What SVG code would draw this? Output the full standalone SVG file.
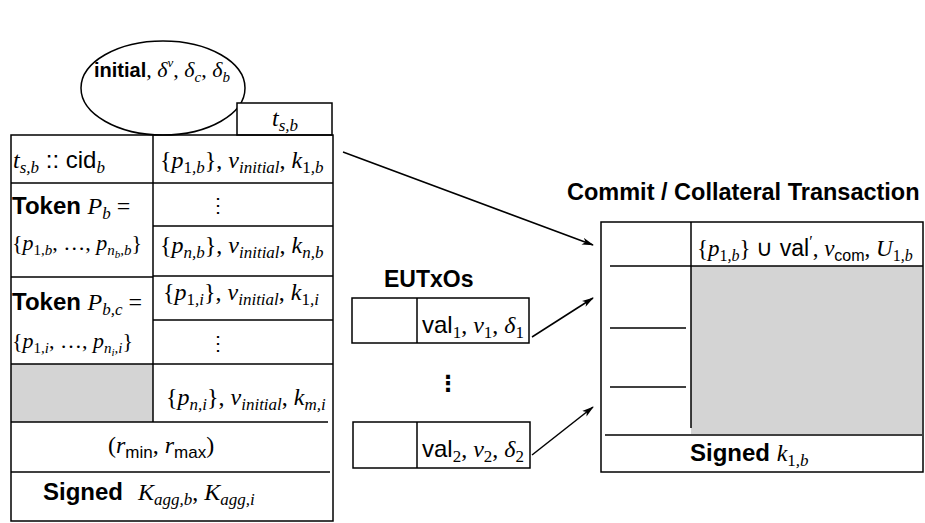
<svg xmlns="http://www.w3.org/2000/svg" width="925" height="523" viewBox="0 0 925 523">
<defs>
<style>
.ln{stroke:#000;stroke-width:1.5;fill:none}
.bx{stroke:#000;stroke-width:1.5;fill:#fff}
.gr{fill:#d4d4d4;stroke:none}
.b{font-family:"Liberation Sans",Arial,sans-serif;font-weight:bold;font-size:23px;fill:#000}
.m{font-family:"Liberation Serif","Times New Roman",serif;font-style:italic;font-size:24px;fill:#000}
.u{font-style:normal}
.s{font-size:17px}
.ss{font-size:11px}
.sf{font-family:"Liberation Sans",Arial,sans-serif;font-style:normal;font-weight:normal}
.dots{font-family:"DejaVu Serif",serif;font-size:20px;fill:#000}
.bdots{font-family:"DejaVu Sans",sans-serif;font-weight:bold;font-size:22px;fill:#000}
.conn{stroke:#000;stroke-width:1.5;fill:none;marker-end:url(#ah)}
</style>
<marker id="ah" viewBox="0 0 12 8" refX="11" refY="4" markerWidth="12" markerHeight="8" markerUnits="userSpaceOnUse" orient="auto">
<path d="M0,0.5 L12,4 L0,7.5 L3,4 z" fill="#000"/>
</marker>
</defs>

<g id="state-node">
<ellipse class="bx" cx="163" cy="88" rx="82" ry="47"/>
<text x="94" y="77"><tspan class="b" style="font-size:20px">initial</tspan><tspan class="m" style="font-size:22px"><tspan class="u">, </tspan>δ<tspan dy="-10" style="font-size:13px">v</tspan><tspan class="u" dy="10">, </tspan>δ<tspan dy="5" style="font-size:15px">c</tspan><tspan class="u" dy="-5">, </tspan>δ<tspan dy="5" style="font-size:15px">b</tspan></tspan></text>
</g>

<g id="tsb-node">
<rect class="bx" x="237" y="103" width="95" height="32"/>
<text class="m" x="285" y="126" text-anchor="middle">t<tspan class="s" dy="5">s,b</tspan></text>
</g>

<g id="left-table">
<rect class="gr" x="11" y="364" width="142" height="58"/>
<rect class="ln" x="11" y="135" width="322" height="386"/>
<line class="ln" x1="153" y1="135" x2="153" y2="422"/>
<line class="ln" x1="11" y1="183" x2="333" y2="183"/>
<line class="ln" x1="11" y1="277" x2="153" y2="277"/>
<line class="ln" x1="11" y1="364" x2="153" y2="364"/>
<line class="ln" x1="153" y1="226" x2="333" y2="226"/>
<line class="ln" x1="153" y1="276" x2="333" y2="276"/>
<line class="ln" x1="153" y1="320" x2="333" y2="320"/>
<line class="ln" x1="153" y1="364" x2="333" y2="364"/>
<line class="ln" x1="11" y1="422" x2="328" y2="422"/>
<line class="ln" x1="11" y1="472" x2="330" y2="472"/>

<text class="m" x="13" y="168">t<tspan class="s" dy="5">s,b</tspan><tspan class="u sf" dy="-5"> :: cid</tspan><tspan class="s" dy="5">b</tspan></text>
<text x="12" y="214"><tspan class="b" style="font-size:24px">Token </tspan><tspan class="m">P<tspan class="s" dy="5">b</tspan><tspan class="u" dy="-5"> =</tspan></tspan></text>
<text class="m" x="12" y="250" style="font-size:22px"><tspan class="u">{</tspan>p<tspan dy="5" style="font-size:15px"><tspan class="u">1</tspan>,b</tspan><tspan class="u" dy="-5">, …, </tspan>p<tspan dy="5" style="font-size:15px">n</tspan><tspan class="ss" dy="3">b</tspan><tspan dy="-3" style="font-size:15px">,b</tspan><tspan class="u" dy="-5">}</tspan></text>
<text x="12" y="310"><tspan class="b" style="font-size:24px">Token </tspan><tspan class="m">P<tspan class="s" dy="5">b,c</tspan><tspan class="u" dy="-5"> =</tspan></tspan></text>
<text class="m" x="12" y="348" style="font-size:22px"><tspan class="u">{</tspan>p<tspan dy="5" style="font-size:15px"><tspan class="u">1</tspan>,i</tspan><tspan class="u" dy="-5">, …, </tspan>p<tspan dy="5" style="font-size:15px">n</tspan><tspan class="ss" dy="3">i</tspan><tspan dy="-3" style="font-size:15px">,i</tspan><tspan class="u" dy="-5">}</tspan></text>

<text class="m" x="160" y="168"><tspan class="u">{</tspan>p<tspan class="s" dy="5"><tspan class="u">1</tspan>,b</tspan><tspan class="u" dy="-5">}, </tspan>ν<tspan class="s" dy="5">initial</tspan><tspan class="u" dy="-5">, </tspan>k<tspan class="s" dy="5"><tspan class="u">1</tspan>,b</tspan></text>
<text class="dots" x="218" y="212" text-anchor="middle">⋮</text>
<text class="m" x="160" y="253"><tspan class="u">{</tspan>p<tspan class="s" dy="5">n,b</tspan><tspan class="u" dy="-5">}, </tspan>ν<tspan class="s" dy="5">initial</tspan><tspan class="u" dy="-5">, </tspan>k<tspan class="s" dy="5">n,b</tspan></text>
<text class="m" x="163" y="300"><tspan class="u">{</tspan>p<tspan class="s" dy="5"><tspan class="u">1</tspan>,i</tspan><tspan class="u" dy="-5">}, </tspan>ν<tspan class="s" dy="5">initial</tspan><tspan class="u" dy="-5">, </tspan>k<tspan class="s" dy="5"><tspan class="u">1</tspan>,i</tspan></text>
<text class="dots" x="218" y="350" text-anchor="middle">⋮</text>
<text class="m" x="166" y="405"><tspan class="u">{</tspan>p<tspan class="s" dy="5">n,i</tspan><tspan class="u" dy="-5">}, </tspan>ν<tspan class="s" dy="5">initial</tspan><tspan class="u" dy="-5">, </tspan>k<tspan class="s" dy="5">m,i</tspan></text>
<text class="m" x="108" y="453"><tspan class="u">(</tspan>r<tspan class="s sf" dy="5">min</tspan><tspan class="u" dy="-5">, </tspan>r<tspan class="s sf" dy="5">max</tspan><tspan class="u" dy="-5">)</tspan></text>
<text x="43" y="500"><tspan class="b" style="font-size:24px">Signed</tspan><tspan class="m" x="138">K<tspan class="s" dy="5">agg,b</tspan><tspan class="u" dy="-5">, </tspan>K<tspan class="s" dy="5">agg,i</tspan></tspan></text>
</g>

<g id="eutxos">
<text class="b" x="384" y="287">EUTxOs</text>
</g>
<g id="eutxo-1">
<rect class="bx" x="352" y="298" width="177" height="45"/>
<line class="ln" x1="417" y1="298" x2="417" y2="343"/>
<text class="m" x="422" y="333"><tspan class="sf">val</tspan><tspan class="s u" dy="5">1</tspan><tspan class="u" dy="-5">, </tspan>ν<tspan class="s u" dy="5">1</tspan><tspan class="u" dy="-5">, </tspan>δ<tspan class="s u" dy="5">1</tspan></text>
</g>
<g id="eutxo-dots">
<text class="bdots" x="448" y="391" text-anchor="middle">⋮</text>
</g>
<g id="eutxo-2">
<rect class="bx" x="353" y="422" width="177" height="46"/>
<line class="ln" x1="417" y1="422" x2="417" y2="468"/>
<text class="m" x="422" y="457"><tspan class="sf">val</tspan><tspan class="s u" dy="5">2</tspan><tspan class="u" dy="-5">, </tspan>ν<tspan class="s u" dy="5">2</tspan><tspan class="u" dy="-5">, </tspan>δ<tspan class="s u" dy="5">2</tspan></text>
</g>

<g id="commit-tx">
<text class="b" x="567" y="200" style="font-size:23.5px">Commit / Collateral Transaction</text>
<rect class="gr" x="691" y="266" width="231" height="168"/>
<rect class="ln" x="601" y="222" width="322" height="250"/>
<line class="ln" x1="691" y1="222" x2="691" y2="428"/>
<line class="ln" x1="610" y1="266" x2="923" y2="266"/>
<line class="ln" x1="610" y1="328" x2="686" y2="328"/>
<line class="ln" x1="610" y1="387" x2="686" y2="387"/>
<line class="ln" x1="605" y1="435" x2="922" y2="435"/>
<text class="m" x="697" y="256" style="font-size:23px"><tspan class="u">{</tspan>p<tspan dy="5" style="font-size:16px"><tspan class="u">1</tspan>,b</tspan><tspan class="u" dy="-5">} </tspan><tspan class="sf">∪ val</tspan><tspan class="u" dy="-9" style="font-size:16px">′</tspan><tspan class="u" dy="9">, </tspan>ν<tspan class="sf" dy="5" style="font-size:16px">com</tspan><tspan class="u" dy="-5">, </tspan>U<tspan dy="5" style="font-size:16px"><tspan class="u">1</tspan>,b</tspan></text>
<text x="690" y="461"><tspan class="b" style="font-size:24px">Signed </tspan><tspan class="m">k<tspan class="s" dy="5"><tspan class="u">1</tspan>,b</tspan></tspan></text>
</g>

<g id="connectors">
<line class="conn" x1="343" y1="152" x2="593" y2="245"/>
<line class="conn" x1="532" y1="337" x2="593" y2="298"/>
<line class="conn" x1="532" y1="455" x2="593" y2="407"/>
</g>
</svg>
